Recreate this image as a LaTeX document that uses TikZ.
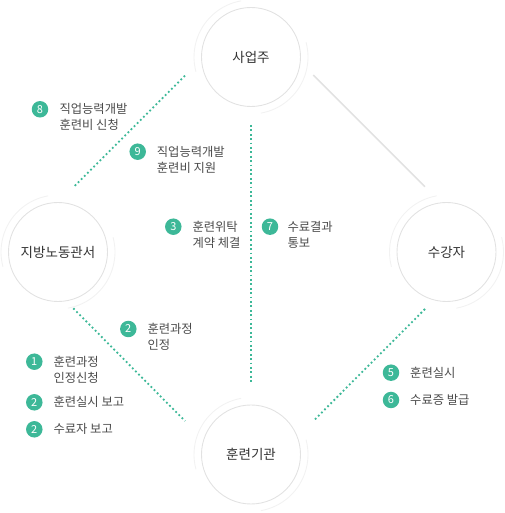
\documentclass[tikz,border=0pt]{standalone}
\usepackage{fontspec}
\setmainfont{Noto Sans CJK KR}
\usetikzlibrary{positioning}

\definecolor{stepteal}{HTML}{3DB898}
\definecolor{ringgray}{HTML}{E2E2E2}
\definecolor{shadegray}{HTML}{F2F2F2}
\definecolor{textgray}{HTML}{4A4A4A}
\definecolor{titlegray}{HTML}{333333}

\tikzset{
  station/.style={circle, draw=ringgray, line width=0.9pt, minimum size=99pt, inner sep=0pt,
    text=titlegray, font=\fontsize{13.5}{15}\selectfont},
  shade/.style={draw=shadegray, line width=0.9pt},
  badge/.style={circle, fill=stepteal, minimum size=16.5pt, inner sep=0pt, text=white,
    font=\fontsize{11}{12}\selectfont},
  note/.style={anchor=west, align=left, inner sep=0pt, text=textgray,
    font=\fontsize{12.3}{16}\selectfont},
  flow/.style={stepteal, line width=1.8pt, dash pattern=on 1.8pt off 2.6pt},
  link/.style={ringgray, line width=1.6pt}
}

\begin{document}
\begin{tikzpicture}[x=1pt,y=1pt]
\useasboundingbox (0,0) rectangle (504,513);

% draw the four places

\node[station] (boss) at (251,456) {사업주};
\node[station] (office) at (58,261) {지방노동관서};
\node[station] (trainee) at (446.5,261) {수강자};
\node[station] (school) at (251,58.5) {훈련기관};

% faint outer rings

\foreach \p in {boss,office,trainee,school}
{
  \draw[shade] (\p.center) ++(100:57) arc[start angle=100, end angle=195, radius=57];
  \draw[shade] (\p.center) ++(280:57) arc[start angle=280, end angle=375, radius=57];
}

% end points of the connectors

\coordinate (bossL) at (185,437.3);
\coordinate (officeT) at (73.3,325.7);
\coordinate (bossB) at (250.7,388);
\coordinate (schoolT) at (250.7,131.3);
\coordinate (officeB) at (73.3,204.7);
\coordinate (schoolL) at (185,92);
\coordinate (traineeB) at (425,204);
\coordinate (schoolR) at (313.3,92);
\coordinate (bossR) at (313.3,438);
\coordinate (traineeT) at (425,326.3);

\draw[flow] (bossL) -- (officeT);
\draw[flow] (bossB) -- (schoolT);
\draw[flow] (officeB) -- (schoolL);
\draw[flow] (traineeB) -- (schoolR);
\draw[link] (bossR) -- (traineeT);

% numbered steps

\node[badge] (b8) at (40,403.7) {8};
\node[note] (t8) at (59.3,395.7) {직업능력개발\\훈련비 신청};
\node[badge] (b9) at (137.7,361.3) {9};
\node[note] (t9) at (156.7,353.3) {직업능력개발\\훈련비 지원};
\node[badge] (b3) at (173.3,286.3) {3};
\node[note] (t3) at (192.3,278.3) {훈련위탁\\계약 체결};
\node[badge] (b7) at (270,286.3) {7};
\node[note] (t7) at (287.3,278.3) {수료결과\\통보};
\node[badge] (b2a) at (128.3,184) {2};
\node[note] (t2a) at (147.3,176) {훈련과정\\인정};

\node[badge] (b1) at (34.3,151.3) {1};
\node[note] (t1) at (53.3,143.3) {훈련과정\\인정신청};
\node[badge] (b2b) at (34.3,110.7) {2};
\node[note] (t2b) at (53.3,110.7) {훈련실시 보고};
\node[badge] (b2c) at (34.3,83.7) {2};
\node[note] (t2c) at (53.3,83.7) {수료자 보고};

\node[badge] (b5) at (391,140.3) {5};
\node[note] (t5) at (410,140.3) {훈련실시};
\node[badge] (b6) at (391,113) {6};
\node[note] (t6) at (410,113) {수료증 발급};

\end{tikzpicture}
\end{document}
